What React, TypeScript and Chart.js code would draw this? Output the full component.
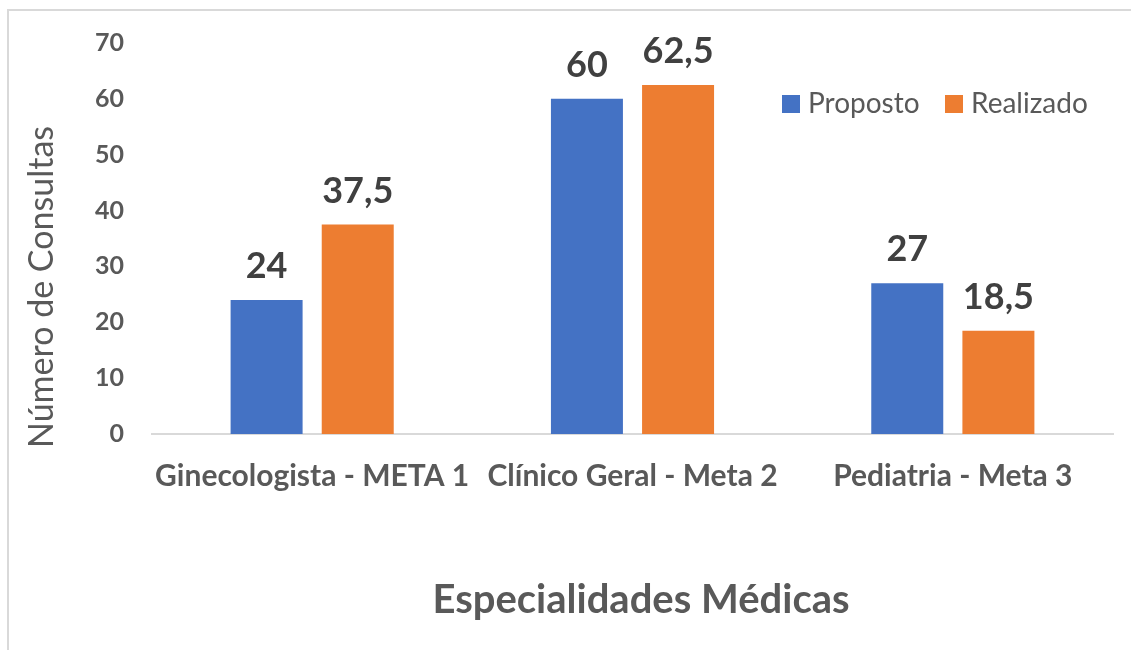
import React, { useEffect, useRef } from "react";
import { Chart, registerables } from "chart.js";

Chart.register(...registerables);

const categories = ["Ginecologista - META 1", "Clínico Geral - Meta 2", "Pediatria - Meta 3"];
const proposto = [24, 60, 27];
const realizado = [37.5, 62.5, 18.5];
const seriesNames = ["Proposto", "Realizado"];
const seriesColors = ["#4472C4", "#ED7D31"];
const yTitle = "Número de Consultas";
const xTitle = "Especialidades Médicas";

const FONT = "Lato, 'Open Sans', sans-serif";

const fmt = (v: number) => String(v).replace(".", ",");

const dataLabelPlugin = {
  id: "dataLabels",
  afterDatasetsDraw(chart: any) {
    const ctx = chart.ctx;
    ctx.save();
    ctx.font = `bold 36px ${FONT}`;
    ctx.fillStyle = "#404040";
    ctx.textAlign = "center";
    ctx.textBaseline = "alphabetic";
    chart.data.datasets.forEach((ds: any, i: number) => {
      const meta = chart.getDatasetMeta(i);
      meta.data.forEach((bar: any, j: number) => {
        ctx.fillText(fmt(ds.data[j]), bar.x, bar.y - 22);
      });
    });
    ctx.restore();
  },
};

const titlesPlugin = {
  id: "axisTitles",
  afterDraw(chart: any) {
    const ctx = chart.ctx;
    ctx.save();
    ctx.fillStyle = "#595959";
    ctx.textAlign = "center";
    ctx.textBaseline = "alphabetic";
    ctx.font = `bold 40px ${FONT}`;
    ctx.fillText(xTitle, 641, 613);
    ctx.translate(53, 287);
    ctx.rotate(-Math.PI / 2);
    ctx.font = `34px ${FONT}`;
    ctx.fillText(yTitle, 0, 0);
    ctx.restore();
  },
};

const legendPlugin = {
  id: "customLegend",
  afterDraw(chart: any) {
    const ctx = chart.ctx;
    ctx.save();
    ctx.font = `28px ${FONT}`;
    ctx.textBaseline = "alphabetic";
    ctx.textAlign = "left";
    const xs = [782, 945];
    chart.data.datasets.forEach((ds: any, i: number) => {
      ctx.fillStyle = ds.backgroundColor;
      ctx.fillRect(xs[i], 95, 18, 18);
      ctx.fillStyle = "#595959";
      ctx.fillText(ds.label, xs[i] + 26, 113);
    });
    ctx.restore();
  },
};

export default function App() {
  const ref = useRef<HTMLCanvasElement>(null);
  useEffect(() => {
    if (!ref.current) return;
    const chart = new Chart(ref.current, {
      type: "bar",
      data: {
        labels: categories,
        datasets: [
          { label: seriesNames[0], data: proposto, backgroundColor: seriesColors[0] },
          { label: seriesNames[1], data: realizado, backgroundColor: seriesColors[1] },
        ],
      },
      options: {
        animation: false,
        responsive: false,
        datasets: { bar: { categoryPercentage: 0.569, barPercentage: 0.79 } },
        layout: { padding: { left: 0, top: 41, right: 18, bottom: 0 } },
        plugins: { legend: { display: false }, tooltip: { enabled: false } },
        scales: {
          x: {
            grid: { display: false, drawTicks: false },
            border: { display: true, color: "#d9d9d9", width: 2 },
            ticks: { color: "#595959", font: { family: FONT, size: 30, weight: "bold" }, padding: 24, maxRotation: 0 },
            title: { display: false, text: xTitle },
            afterFit: (s: any) => { s.height = 216; },
          },
          y: {
            min: 0,
            max: 70,
            grid: { display: false, drawTicks: false },
            border: { display: false },
            ticks: { stepSize: 10, color: "#595959", font: { family: FONT, size: 25, weight: "bold" }, padding: 28 },
            title: { display: false, text: yTitle },
            afterFit: (s: any) => { s.width = 152; },
          },
        },
      },
      plugins: [dataLabelPlugin, titlesPlugin, legendPlugin],
    });
    return () => chart.destroy();
  }, []);
  return (
    <div style={{ position: "absolute", left: 0, top: 0, width: 1131, height: 650, background: "#fff", overflow: "hidden" }}>
      <div style={{ position: "absolute", left: 7, top: 9, width: 1200, height: 700, borderLeft: "2px solid #d9d9d9", borderTop: "2px solid #d9d9d9" }} />
      <canvas ref={ref} width={1131} height={650} style={{ position: "absolute", left: 0, top: 0 }} />
    </div>
  );
}
